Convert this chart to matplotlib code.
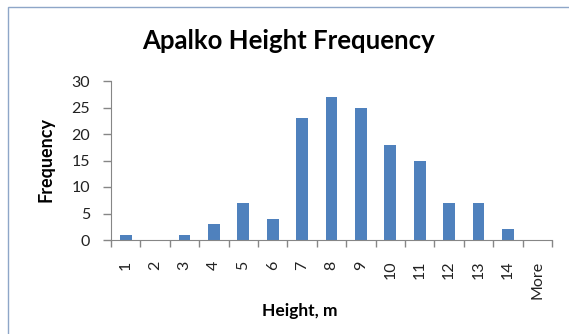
import matplotlib.pyplot as plt
import numpy as np
from matplotlib.patches import Rectangle

bins = ["1", "2", "3", "4", "5", "6", "7", "8", "9", "10", "11", "12", "13", "14", "More"]
freq = [1, 0, 1, 3, 7, 4, 23, 27, 25, 18, 15, 7, 7, 2, 0]
yticks = [0, 5, 10, 15, 20, 25, 30]

plt.rcParams['font.family'] = ['Lato', 'DejaVu Sans']

W, H = 569, 334
fig = plt.figure(figsize=(W / 100, H / 100), dpi=100)
fig.patch.set_facecolor("white")

# chart area frame
fig.patches.append(Rectangle((8/W, -0.1), 1.0, 1 - 7/H + 0.1, transform=fig.transFigure,
                             fill=False, edgecolor="#8EA6C8", linewidth=1.0))

ax = fig.add_axes([111/W, 1 - 240/H, 441/W, 159/H])
x = np.arange(len(bins))
ax.bar(x, freq, width=0.4, color="#4F81BD")

ax.set_xlim(-0.5, len(bins) - 0.5)
ax.set_ylim(0, 30)
ax.set_yticks(yticks)
ax.set_yticklabels([str(v) for v in yticks], fontsize=11.5, color="#222222")

ax.set_xticks(x)
ax.set_xticklabels(bins, rotation=90, fontsize=11.5, color="#222222")
ax.set_xticks(np.arange(-0.5, len(bins)), minor=True)
ax.tick_params(axis="x", which="major", length=0, pad=15)
ax.tick_params(axis="x", which="minor", length=5, color="#868686", width=1)
ax.tick_params(axis="y", length=6, color="#868686", width=1, pad=9)

for side in ("top", "right"):
    ax.spines[side].set_visible(False)
for side in ("left", "bottom"):
    ax.spines[side].set_color("#868686")

fig.text(46/W, 1 - 159/H, "Frequency", fontsize=13, fontweight="bold",
         rotation=90, ha="center", va="center")
fig.text(300/W, 1 - 311/H, "Height, m", fontsize=12.5, fontweight="bold",
         ha="center", va="center")
fig.text(289/W, 1 - 41/H, "Apalko Height Frequency", fontsize=18.5, fontweight="bold",
         ha="center", va="center")

fig.savefig("out.png", dpi=100)
